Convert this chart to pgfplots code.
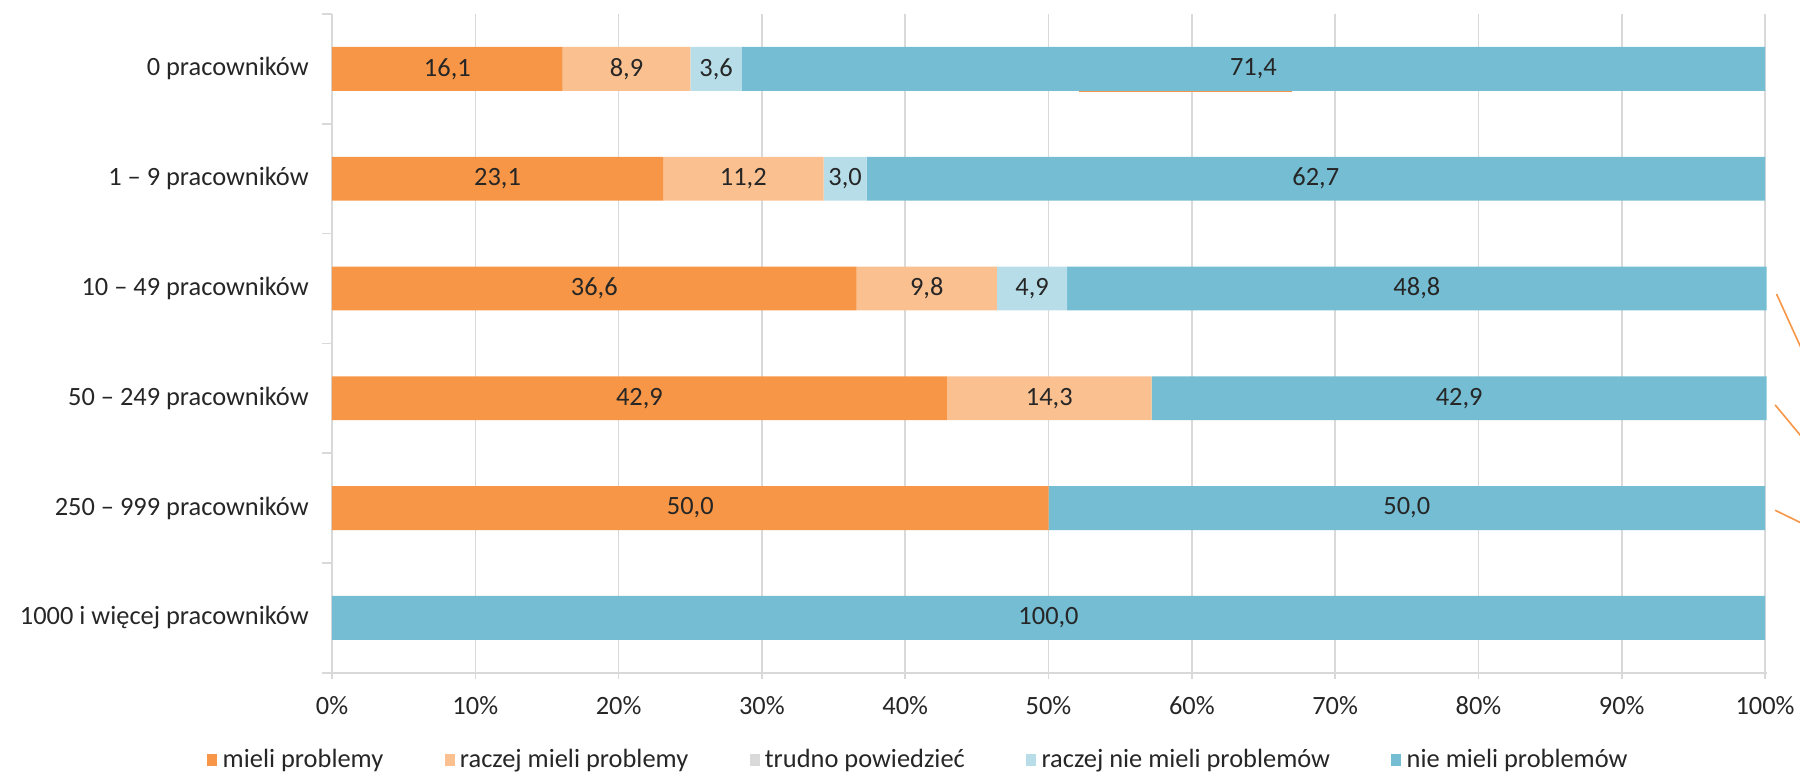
\documentclass[border=0pt]{standalone}
\usepackage{fontspec}
\setmainfont{Carlito}
\usepackage{pgfplots}
\pgfplotsset{compat=1.18}

\definecolor{cMieli}{HTML}{F79646}
\definecolor{cRaczejMieli}{HTML}{FAC090}
\definecolor{cTrudno}{HTML}{D9D9D9}
\definecolor{cRaczejNie}{HTML}{B7DEE8}
\definecolor{cNie}{HTML}{74BDD3}
\definecolor{cGrid}{HTML}{D9D9D9}
\definecolor{cText}{HTML}{262626}

\begin{document}
\fontsize{9.9pt}{12pt}\selectfont
\begin{tikzpicture}
\useasboundingbox (0,0) rectangle (675pt,290.625pt);
\begin{axis}[
  at={(124.5pt,38.36pt)}, anchor=south west,
  scale only axis, width=537.94pt, height=247pt,
  xbar stacked, bar width=0.4,
  xmin=0, xmax=100.1, ymin=-0.5, ymax=5.5,
  axis lines*=left,
  axis line style={draw=cGrid, line width=0.6pt},
  xtick={0,10,...,100},
  xticklabels={0\%,10\%,20\%,30\%,40\%,50\%,60\%,70\%,80\%,90\%,100\%},
  ytick={0,...,5},
  yticklabels={1000 i więcej pracowników,250 – 999 pracowników,50 – 249 pracowników,10 – 49 pracowników,1 – 9 pracowników,0 pracowników},
  minor ytick={-0.5,0.5,...,5.5},
  tick align=outside,
  major tick length=2.25pt,
  minor tick length=3.75pt,
  every major y tick/.append style={draw=none},
  every minor y tick/.append style={draw=cGrid, line width=0.6pt},
  every major x tick/.append style={draw=cGrid, line width=0.6pt},
  xmajorgrids,
  major x grid style={draw=cGrid, line width=0.6pt},
  ticklabel style={text=cText, font=\fontsize{9.9pt}{12pt}\selectfont},
  yticklabel style={xshift=-3pt},
  xticklabel style={yshift=-3pt},
  /pgf/number format/assume math mode=true,
  % value labels sit in the middle of their own segment; zeros are left out
  nodes near coords={\pgfmathfloatifflags{\pgfplotspointmeta}{0}{}{\pgfmathprintnumber[fixed,fixed zerofill,precision=1,use comma]{\pgfplotspointmeta}}},
  every node near coord/.append style={anchor=center, text=cText, font=\fontsize{9.9pt}{12pt}\selectfont},
  legend style={at={(0.41,-0.1325)}, anchor=center, draw=none, fill=none,
    text=cText, font=\fontsize{9.9pt}{12pt}\selectfont,
    /tikz/every even column/.append style={column sep=21pt}},
  legend columns=-1,
  legend image code/.code={\fill[#1] (0pt,-2.25pt) rectangle (3.75pt,2.25pt);},
]
% rows: 5 = 0 pracowników (top) ... 0 = 1000 i więcej pracowników (bottom)
\addplot[fill=cMieli, draw=none] coordinates
  {(0,0) (50.0,1) (42.9,2) (36.6,3) (23.1,4) (16.1,5)};
\addlegendentry{mieli problemy}
\addplot[fill=cRaczejMieli, draw=none] coordinates
  {(0,0) (0,1) (14.3,2) (9.8,3) (11.2,4) (8.9,5)};
\addlegendentry{raczej mieli problemy}
\addplot[fill=cTrudno, draw=none] coordinates
  {(0,0) (0,1) (0,2) (0,3) (0,4) (0,5)};
\addlegendentry{trudno powiedzieć}
\addplot[fill=cRaczejNie, draw=none] coordinates
  {(0,0) (0,1) (0,2) (4.9,3) (3.0,4) (3.6,5)};
\addlegendentry{raczej nie mieli problemów}
\addplot[fill=cNie, draw=none] coordinates
  {(100.0,0) (50.0,1) (42.9,2) (48.8,3) (62.7,4) (71.4,5)};
\addlegendentry{nie mieli problemów}

% stray leader strokes around the bars
\draw[cMieli, line width=0.75pt] (axis cs:52.1,4.8) -- (axis cs:67.0,4.8);
\coordinate (l1a) at (axis cs:100.8,2.95);
\coordinate (l1b) at (axis cs:104,2.03);
\coordinate (l2a) at (axis cs:100.7,1.94);
\coordinate (l2b) at (axis cs:104,1.42);
\coordinate (l3a) at (axis cs:100.7,0.98);
\coordinate (l3b) at (axis cs:104,0.77);
\end{axis}
\draw[cMieli, line width=0.6pt] (l1a) -- (l1b);
\draw[cMieli, line width=0.6pt] (l2a) -- (l2b);
\draw[cMieli, line width=0.6pt] (l3a) -- (l3b);
\end{tikzpicture}
\end{document}
